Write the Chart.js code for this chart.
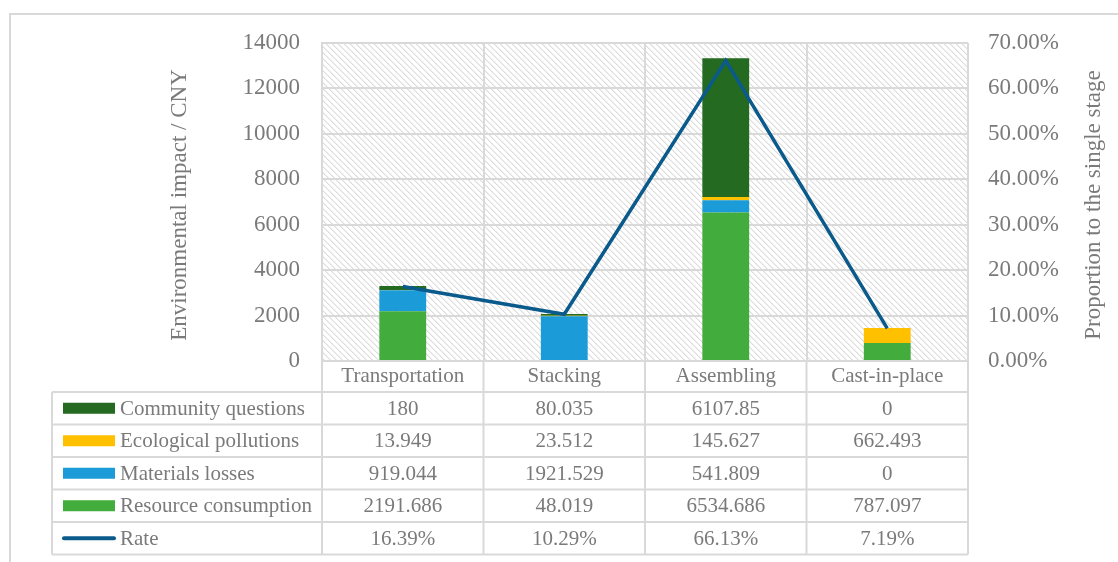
<!DOCTYPE html>
<html>
<head>
<meta charset="utf-8">
<script src="https://cdn.jsdelivr.net/npm/chart.js@4"></script>
<style>
  html, body { margin: 0; padding: 0; background: #fff; overflow: hidden; }
  #wrap { position: relative; width: 1118px; height: 562px; }
</style>
</head>
<body>
<div id="wrap"><canvas id="impactChart"></canvas></div>
<script>
// Chart data
const stages = ["Transportation", "Stacking", "Assembling", "Cast-in-place"]
const communityQuestions = [180, 80.035, 6107.85, 0]
const ecologicalPollutions = [13.949, 23.512, 145.627, 662.493]
const materialsLosses = [919.044, 1921.529, 541.809, 0]
const resourceConsumption = [2191.686, 48.019, 6534.686, 787.097]
const rate = [16.39, 10.29, 66.13, 7.19]
const leftMax = 14000
const leftStep = 2000
const rightMax = 70
const rightStep = 10

const FONT = "'Liberation Serif', 'Times New Roman', serif"
const TEXT = "#7a7a7a"
const GRID = "#d9d9d9"

// diagonal hatch for the plot background
function makeHatch() {
  const size = 6
  const c = document.createElement("canvas")
  c.width = size
  c.height = size
  const g = c.getContext("2d")
  g.fillStyle = "#ffffff"
  g.fillRect(0, 0, size, size)
  for (let i = 0; i < size; i++) {
    g.fillStyle = "#dcdcdc"
    g.fillRect(i, i, 1, 1)
    g.fillStyle = "#eeeeee"
    g.fillRect((i + 1) % size, i, 1, 1)
  }
  return g.createPattern(c, "repeat")
}

const tablePlugin = {
  id: "tablePlugin",
  beforeDraw(chart) {
    const { ctx, chartArea } = chart
    ctx.save()
    // outer frame
    ctx.strokeStyle = GRID
    ctx.lineWidth = 2
    ctx.strokeRect(10, 14, 1200, 600)
    // hatched plot area
    ctx.fillStyle = makeHatch()
    ctx.fillRect(chartArea.left, chartArea.top, chartArea.right - chartArea.left, chartArea.bottom - chartArea.top)
    ctx.restore()
  },
  afterDraw(chart) {
    const { ctx, chartArea, scales } = chart
    const x = scales.x
    const rowTop = 392
    const rowH = 32.5
    const tableLeft = 52
    const rows = chart.data.datasets.slice().sort((a, b) => a.row - b.row)
    ctx.save()
    ctx.strokeStyle = GRID
    ctx.lineWidth = 2
    // horizontal lines
    for (let i = 0; i <= rows.length; i++) {
      const y = rowTop + i * rowH
      ctx.beginPath()
      ctx.moveTo(tableLeft, y)
      ctx.lineTo(chartArea.right, y)
      ctx.stroke()
    }
    const bottom = rowTop + rows.length * rowH
    // vertical lines
    ctx.beginPath()
    ctx.moveTo(tableLeft, rowTop)
    ctx.lineTo(tableLeft, bottom)
    const colW = (chartArea.right - chartArea.left) / stages.length
    for (let i = 0; i <= stages.length; i++) {
      const vx = chartArea.left + i * colW
      ctx.moveTo(vx, chartArea.bottom)
      ctx.lineTo(vx, bottom)
    }
    ctx.stroke()

    // rows
    ctx.font = "21px " + FONT
    ctx.textBaseline = "middle"
    rows.forEach((ds, r) => {
      const cy = rowTop + (r + 0.5) * rowH
      if (ds.type === "line") {
        ctx.strokeStyle = ds.borderColor
        ctx.lineWidth = 4
        ctx.lineCap = "round"
        ctx.beginPath()
        ctx.moveTo(64, cy)
        ctx.lineTo(114, cy)
        ctx.stroke()
      } else {
        ctx.fillStyle = ds.backgroundColor
        ctx.fillRect(63, cy - 5.5, 52, 11)
      }
      ctx.fillStyle = TEXT
      ctx.textAlign = "left"
      ctx.fillText(ds.label, 120, cy + 1)
      ctx.textAlign = "center"
      ds.data.forEach((v, i) => {
        const txt = ds.type === "line" ? v.toFixed(2) + "%" : String(v)
        ctx.fillText(txt, x.getPixelForValue(i), cy + 1)
      })
    })

    // axis titles
    ctx.font = "23px " + FONT
    ctx.textAlign = "center"
    const midY = (chartArea.top + chartArea.bottom) / 2 + 3
    ctx.save()
    ctx.translate(180, midY)
    ctx.rotate(-Math.PI / 2)
    ctx.fillText("Environmental impact / CNY", 0, 0)
    ctx.restore()
    ctx.save()
    ctx.translate(1094, midY)
    ctx.rotate(-Math.PI / 2)
    ctx.fillText("Proportion to the single stage", 0, 0)
    ctx.restore()
    ctx.restore()
  },
}

document.addEventListener("DOMContentLoaded", () => {
  Chart.defaults.font.family = FONT
  Chart.defaults.color = TEXT

  const barCommon = {
    type: "bar",
    yAxisID: "y",
    categoryPercentage: 1,
    barPercentage: 0.29,
    order: 1,
  }

  new Chart(document.getElementById("impactChart"), {
    data: {
      labels: stages,
      datasets: [
        { ...barCommon, label: "Resource consumption", data: resourceConsumption, backgroundColor: "#42ad3d", row: 3 },
        { ...barCommon, label: "Materials losses", data: materialsLosses, backgroundColor: "#1b9bd7", row: 2 },
        { ...barCommon, label: "Ecological pollutions", data: ecologicalPollutions, backgroundColor: "#ffc000", row: 1 },
        { ...barCommon, label: "Community questions", data: communityQuestions, backgroundColor: "#246a21", row: 0 },
        {
          type: "line",
          label: "Rate",
          data: rate,
          yAxisID: "y1",
          borderColor: "#0b5a8c",
          borderWidth: 3.5,
          pointRadius: 0,
          tension: 0,
          order: 0,
          row: 4,
        },
      ],
    },
    options: {
      responsive: true,
      maintainAspectRatio: false,
      animation: false,
      layout: { padding: { top: 43, left: 0, right: 0, bottom: 0 } },
      plugins: {
        legend: { display: false },
        tooltip: { enabled: false },
      },
      scales: {
        x: {
          stacked: true,
          offset: true,
          afterFit: (scale) => { scale.height = 201 },
          grid: { offset: true, color: GRID, lineWidth: 2, drawTicks: false },
          border: { color: GRID, width: 2 },
          ticks: { padding: 3, font: { size: 21 }, color: TEXT, maxRotation: 0 },
        },
        y: {
          stacked: true,
          position: "left",
          min: 0,
          max: leftMax,
          afterFit: (scale) => { scale.width = 322 },
          grid: { color: GRID, lineWidth: 2, drawTicks: false },
          border: { color: GRID, width: 2 },
          ticks: { stepSize: leftStep, padding: 22, font: { size: 23 }, color: TEXT, callback: (v) => String(v) },
        },
        y1: {
          position: "right",
          min: 0,
          max: rightMax,
          afterFit: (scale) => { scale.width = 150 },
          grid: { display: false, drawTicks: false },
          border: { display: false },
          ticks: {
            stepSize: rightStep,
            padding: 20,
            font: { size: 23 },
            color: TEXT,
            callback: (v) => v.toFixed(2) + "%",
          },
        },
      },
    },
    plugins: [tablePlugin],
  })
})
</script>
</body>
</html>
